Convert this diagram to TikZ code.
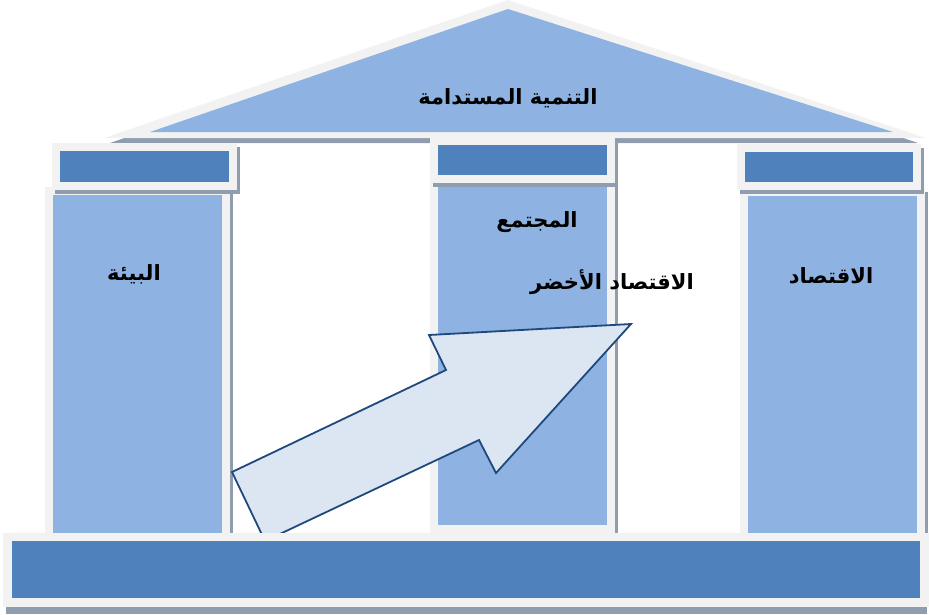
\documentclass[tikz,border=0pt]{standalone}
\usepackage{fontspec}
\newfontfamily\arabicfont[Script=Arabic]{DejaVu Sans}
\TeXXeTstate=1
\definecolor{rimgray}{HTML}{F2F2F2}
\definecolor{shadowgray}{HTML}{8F9DAE}
\definecolor{darkblue}{HTML}{4F81BD}
\definecolor{lightblue}{HTML}{8EB3E2}
\definecolor{arrowfill}{HTML}{DCE6F2}
\definecolor{arrowline}{HTML}{1F497D}
\tikzset{
  shadowpart/.style={fill=shadowgray, draw=none},
  rimpart/.style={fill=rimgray, draw=none},
  darkpart/.style={fill=darkblue, draw=none},
  lightpart/.style={fill=lightblue, draw=none},
  label/.style={font=\arabicfont\bfseries\fontsize{21}{24}\selectfont, text=black, inner sep=0pt},
  arrowshape/.style={fill=arrowfill, draw=arrowline, line width=1.8pt, line join=miter}
}
\newcommand{\pillarblock}[5]{%
  \fill[shadowpart] (#1+3,#2+4) rectangle (#3+3,#4+4);
  \fill[rimpart] (#1,#2) rectangle (#3,#4);
  \fill[#5] (#1+8,#2+8) rectangle (#3-8,#4-8);
}
\begin{document}
\begin{tikzpicture}[x=1pt,y=-1pt]
\useasboundingbox (0,0) rectangle (929,614);
% roof
\fill[shadowpart] (510,4) -- (110,143) -- (918,143) -- cycle;
\fill[rimpart] (508,0) -- (104,138) -- (926,138) -- cycle;
\fill[lightpart] (508,9) -- (150,132) -- (893,132) -- cycle;
\node[label] (roof) at (508,98) {\beginR التنمية المستدامة\endR};
% left pillar
\pillarblock{45}{187}{230}{545}{lightpart}
\pillarblock{52}{143}{237}{190}{darkpart}
\node[label] (env) at (134,274) {\beginR البيئة\endR};
% middle pillar
\pillarblock{430}{178}{615}{533}{lightpart}
\pillarblock{430}{137}{615}{183}{darkpart}
\node[label] (soc) at (537,222) {\beginR المجتمع\endR};
% right pillar
\pillarblock{740}{188}{925}{545}{lightpart}
\pillarblock{737}{144}{921}{190}{darkpart}
\node[label] (eco) at (831,276) {\beginR الاقتصاد\endR};
% arrow
\coordinate (a1) at (232,472);
\coordinate (a2) at (446,370);
\coordinate (a3) at (429,335);
\coordinate (a4) at (631,324);
\coordinate (a5) at (496,473);
\coordinate (a6) at (479,440);
\coordinate (a7) at (265,541);
\draw[arrowshape] (a1) -- (a2) -- (a3) -- (a4) -- (a5) -- (a6) -- (a7) -- cycle;
% base
\fill[shadowpart] (6,536) rectangle (927,614);
\fill[rimpart] (3,533) rectangle (929,607);
\fill[darkpart] (12,541) rectangle (920,598);
% green economy label
\node[label] (green) at (612,282) {\beginR الاقتصاد الأخضر\endR};
\end{tikzpicture}
\end{document}
